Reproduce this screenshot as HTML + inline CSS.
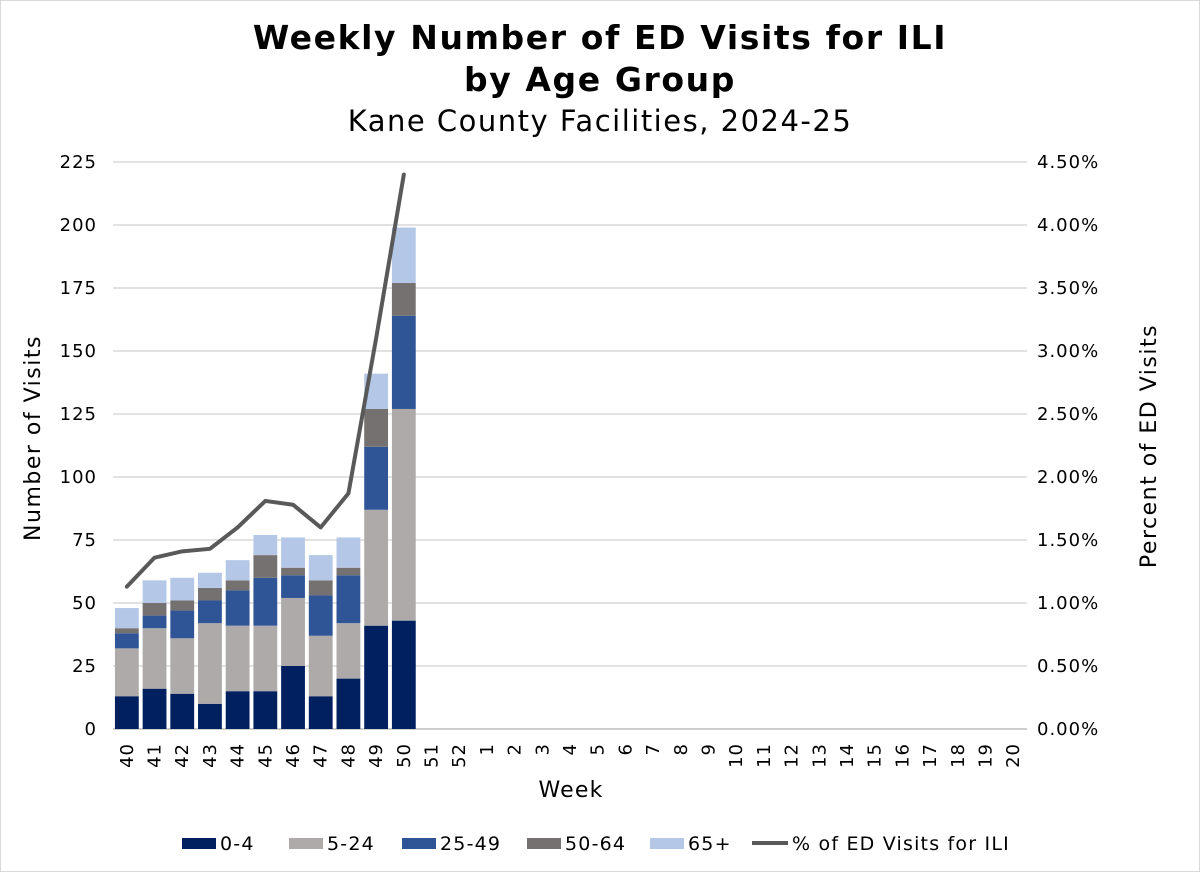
<!DOCTYPE html>
<html><head><meta charset="utf-8"><style>
html,body{margin:0;padding:0;background:#fff;}
svg{display:block;font-family:"DejaVu Sans","Liberation Sans",sans-serif;}
</style></head><body>
<svg id="chart" width="1200" height="872" viewBox="0 0 1200 872">
<rect x="0.5" y="0.5" width="1199" height="871" fill="#fff" stroke="#d9d9d9"/>
<text x="600" y="49" text-anchor="middle" font-size="33" font-weight="bold" letter-spacing="1.6" fill="#000">Weekly Number of ED Visits for ILI</text>
<text x="600" y="91" text-anchor="middle" font-size="33" font-weight="bold" letter-spacing="1.6" fill="#000">by Age Group</text>
<text x="600" y="131" text-anchor="middle" font-size="29" letter-spacing="1.5" fill="#000">Kane County Facilities, 2024-25</text>
<g id="grid"></g><g id="bars"></g><g id="line"></g><g id="axes"></g>
<text transform="translate(40,438) rotate(-90)" text-anchor="middle" font-size="22" letter-spacing="1.5" fill="#000">Number of Visits</text>
<text transform="translate(1156,446) rotate(-90)" text-anchor="middle" font-size="22" letter-spacing="1.5" fill="#000">Percent of ED Visits</text>
<text x="571" y="797" text-anchor="middle" font-size="22" letter-spacing="1.2" fill="#000">Week</text>
<g font-size="19" letter-spacing="1.2" fill="#000">
<rect x="182" y="838" width="34" height="11" fill="#002060"/>
<text x="220" y="850">0-4</text>
<rect x="289" y="838" width="34" height="11" fill="#AEAAAA"/>
<text x="327" y="850">5-24</text>
<rect x="402" y="838" width="34" height="11" fill="#2F5597"/>
<text x="440" y="850">25-49</text>
<rect x="527" y="838" width="34" height="11" fill="#767171"/>
<text x="565" y="850">50-64</text>
<rect x="650" y="838" width="34" height="11" fill="#B4C7E7"/>
<text x="688" y="850">65+</text>
<line x1="752" y1="843" x2="788" y2="843" stroke="#595959" stroke-width="4"/>
<text x="792" y="850">% of ED Visits for ILI</text>
</g>
</svg>
<script>
const weeks = ["40","41","42","43","44","45","46","47","48","49","50","51","52","1","2","3","4","5","6","7","8","9","10","11","12","13","14","15","16","17","18","19","20"];
const age0to4 = [13,16,14,10,15,15,25,13,20,41,43];
const age5to24 = [19,24,22,32,26,26,27,24,22,46,84];
const age25to49 = [6,5,11,9,14,19,9,16,19,25,37];
const age50to64 = [2,5,4,5,4,9,3,6,3,15,13];
const age65plus = [8,9,9,6,8,8,12,10,12,14,22];
const iliPct = [1.13,1.36,1.41,1.43,1.60,1.81,1.78,1.60,1.87,3.10,4.40];
const yTicks = [0,25,50,75,100,125,150,175,200,225];
const y2Ticks = [0,0.5,1,1.5,2,2.5,3,3.5,4,4.5];

const NS="http://www.w3.org/2000/svg";
const L=113, R=1027, T=162, B=729, YMAX=225, Y2MAX=4.5;
const band=(R-L)/weeks.length;
const xC=i=>L+band*(i+0.5);
const y=v=>B-(v/YMAX)*(B-T);
const y2=v=>B-(v/Y2MAX)*(B-T);
function mk(tag,attrs,parent){const e=document.createElementNS(NS,tag);for(const k in attrs)e.setAttribute(k,attrs[k]);parent.appendChild(e);return e;}
const grid=document.getElementById('grid'),bars=document.getElementById('bars'),lineG=document.getElementById('line'),axes=document.getElementById('axes');
yTicks.forEach(t=>{
  const gl=mk('line',{x1:L,x2:R,y1:y(t),y2:y(t),stroke:t===0?'#bfbfbf':'#d9d9d9','stroke-width':1.5},grid);
  
  
  const tx=mk('text',{x:97,y:y(t)+6,'text-anchor':'end','font-size':18,'letter-spacing':1,fill:'#000'},axes);
  tx.textContent=t;
  
  
});
y2Ticks.forEach(t=>{
  const tx=mk('text',{x:1037,y:y2(t)+6,'font-size':18,'letter-spacing':1,fill:'#000'},axes);
  tx.textContent=t.toFixed(2)+'%';
  
  
});
weeks.forEach((w,i)=>{
  const tx=mk('text',{transform:`translate(${xC(i)+6},743) rotate(-90)`,'text-anchor':'end','font-size':18,'letter-spacing':1,fill:'#000'},axes);
  tx.textContent=w;
  
  
});
const series=[[age0to4,'#002060','0-4'],[age5to24,'#AEAAAA','5-24'],[age25to49,'#2F5597','25-49'],[age50to64,'#767171','50-64'],[age65plus,'#B4C7E7','65-plus']];
const bw=band*0.86;
age0to4.forEach((_,i)=>{
  let cum=0;
  series.forEach(([arr,col,nm])=>{
    const v=arr[i];
    const r=mk('rect',{x:xC(i)-bw/2,y:y(cum+v),width:bw,height:y(cum)-y(cum+v),fill:col},bars);
    
    
    cum+=v;
  });
});
const pts=iliPct.map((v,i)=>xC(i)+','+y2(v)).join(' ');
const pl=mk('polyline',{points:pts,fill:'none',stroke:'#595959','stroke-width':4,'stroke-linejoin':'round','stroke-linecap':'round'},lineG);


</script>
</body></html>
